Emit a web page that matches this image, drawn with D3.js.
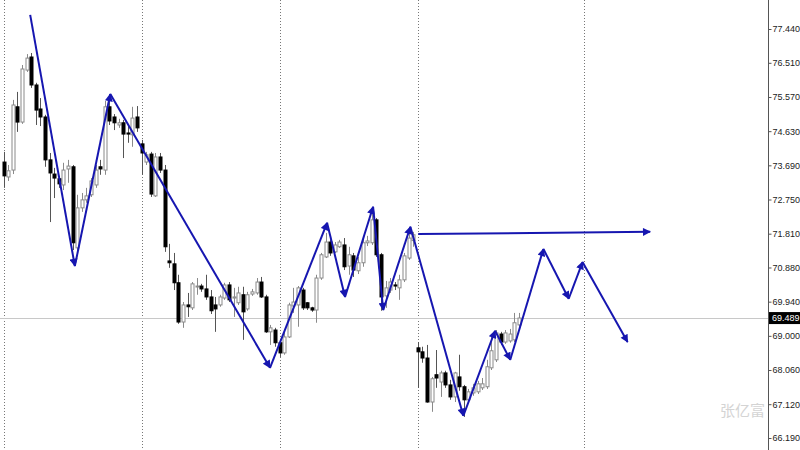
<!DOCTYPE html>
<html>
<head>
<meta charset="utf-8">
<script src="https://cdn.jsdelivr.net/npm/d3@7"></script>
<style>
  body { margin: 0; background: #fff; }
  svg { display: block; }
</style>
</head>
<body>
<svg width="800" height="450"></svg>
<script>
// daily candles, oldest first
const opens = [73.78, 73.37, 73.56, 75.30, 74.88, 76.31, 76.67, 75.90, 75.24, 75.02,
  73.84, 73.45, 73.32, 73.15, 73.59, 73.65, 71.42, 72.52, 72.74, 72.88,
  73.15, 73.65, 73.56, 75.30, 75.02, 74.80, 74.86, 74.58, 74.53, 75.02,
  74.28, 73.78, 74.00, 72.85, 73.92, 73.56, 71.06, 70.98, 70.46, 69.38,
  69.85, 69.77, 70.35, 70.37, 70.29, 70.07, 69.85, 69.85, 70.04, 70.40,
  70.04, 69.91, 70.13, 69.74, 70.15, 70.18, 70.48, 70.07, 69.11, 69.16,
  68.81, 68.53, 68.97, 69.82, 69.85, 70.26, 69.91, 69.77, 69.71, 70.59,
  71.17, 71.58, 71.31, 71.45, 71.50, 70.92, 71.20, 70.79, 71.01, 71.56,
  71.56, 72.19, 71.23, 70.10, 70.26, 70.40, 70.32, 70.54, 71.14, 71.62,
  68.67, 68.56, 68.39, 67.18, 67.93, 67.73, 67.98, 67.65, 67.32, 67.87,
  67.60, 67.24, 67.43, 67.46, 67.57, 67.60, 68.12, 68.34, 69.05, 68.83,
  68.86, 68.89, 69.30];
const highs = [74.06, 73.70, 75.49, 75.71, 76.45, 76.75, 76.78, 75.96, 75.54, 75.08,
  74.03, 73.62, 73.40, 73.76, 73.84, 73.70, 72.88, 72.93, 73.07, 73.34,
  73.70, 73.84, 75.46, 75.54, 75.10, 74.97, 74.94, 74.77, 75.30, 75.32,
  74.39, 74.06, 74.06, 74.03, 74.03, 73.70, 71.53, 71.28, 70.68, 69.93,
  70.18, 70.48, 70.59, 70.43, 70.68, 70.26, 70.07, 70.13, 70.46, 70.48,
  70.32, 70.35, 70.35, 70.21, 70.29, 70.59, 70.62, 70.13, 69.30, 69.22,
  68.89, 69.08, 69.91, 70.32, 70.37, 70.32, 69.93, 69.80, 70.68, 71.28,
  71.83, 71.64, 71.58, 71.64, 71.69, 71.45, 71.28, 71.17, 71.69, 71.75,
  72.41, 72.24, 71.28, 70.51, 70.59, 70.48, 70.68, 71.28, 71.94, 71.86,
  68.83, 68.70, 68.75, 67.87, 68.61, 68.04, 68.04, 67.79, 68.01, 68.48,
  67.65, 67.54, 67.68, 67.76, 67.84, 68.34, 69.03, 69.16, 69.11, 69.16,
  69.19, 69.63, 69.63];
const lows = [73.07, 73.26, 73.45, 74.61, 74.83, 76.26, 75.82, 74.80, 74.77, 73.65,
  72.13, 72.79, 73.07, 73.01, 73.21, 71.36, 71.31, 72.41, 72.66, 72.82,
  73.07, 73.43, 73.43, 74.80, 74.66, 74.72, 73.89, 74.31, 74.20, 74.61,
  73.43, 73.70, 72.82, 72.82, 73.48, 71.31, 70.87, 70.26, 69.33, 69.22,
  69.52, 69.71, 70.13, 70.21, 69.99, 69.60, 69.11, 69.80, 69.99, 69.93,
  69.52, 69.85, 68.89, 69.69, 70.10, 70.13, 70.04, 69.08, 68.75, 68.70,
  68.42, 68.48, 68.94, 69.63, 69.25, 69.71, 69.71, 69.66, 69.36, 70.54,
  71.14, 71.20, 71.28, 71.42, 70.81, 70.68, 70.62, 70.70, 70.90, 71.47,
  71.50, 71.17, 69.69, 69.77, 70.18, 70.26, 69.99, 70.48, 71.09, 71.45,
  67.57, 68.26, 67.16, 66.91, 67.57, 67.32, 67.57, 67.24, 67.18, 67.49,
  66.77, 67.18, 67.35, 67.40, 67.51, 67.54, 68.06, 68.28, 68.75, 68.78,
  68.81, 68.83, 69.25];
const closes = [73.40, 73.54, 75.35, 74.88, 76.34, 76.64, 75.90, 75.21, 75.02, 73.84,
  73.48, 73.34, 73.18, 73.56, 73.67, 71.56, 72.52, 72.74, 72.85, 73.26,
  73.56, 73.59, 75.30, 74.91, 74.86, 74.86, 74.55, 74.55, 74.99, 74.72,
  74.03, 73.98, 72.90, 73.92, 73.56, 71.45, 71.01, 70.46, 69.38, 69.85,
  69.80, 70.43, 70.37, 70.29, 70.07, 69.69, 69.74, 70.07, 70.40, 69.99,
  70.07, 70.18, 69.66, 70.13, 70.21, 70.48, 70.07, 69.11, 69.22, 68.81,
  68.53, 68.97, 69.85, 69.93, 70.32, 69.77, 69.77, 69.71, 70.59, 71.23,
  71.58, 71.28, 71.50, 71.58, 70.90, 71.23, 70.81, 71.01, 71.56, 71.61,
  72.19, 71.23, 70.07, 70.32, 70.48, 70.37, 70.54, 71.20, 71.69, 71.78,
  68.56, 68.39, 67.18, 67.82, 67.84, 67.98, 67.65, 67.32, 67.98, 67.60,
  67.24, 67.46, 67.57, 67.68, 67.68, 68.15, 68.59, 69.08, 68.83, 69.08,
  69.05, 69.36, 69.49];

const priceTicks = [77.44, 76.51, 75.57, 74.63, 73.69, 72.75, 71.81, 70.88,
  69.94, 69.00, 68.06, 67.12, 66.19];
const lastPrice = 69.489;

// period separators (bar positions)
const separatorBars = [0.1, 30.1, 60.1, 90.0, 126.2];

// hand drawn zigzag wave, bar position / price
const waveBars = [5.8, 15.5, 23.2, 57.9, 70.3, 74.2, 80.3, 82.5, 88.4, 99.9,
  106.8, 110.1, 117.3, 122.8, 125.8, 135.6];
const wavePrices = [77.83, 70.92, 75.65, 68.12, 72.11, 70.07, 72.55, 69.71, 72.00, 66.80,
  69.14, 68.34, 71.39, 70.02, 71.03, 68.83];

// horizontal resistance arrow
const levelBars = [90.1, 140.5];
const levelPrices = [71.80, 71.86];

const width = 800, height = 450;
const axisX = 768;
const labelFont = "'Liberation Sans', Arial, sans-serif";

const svg = d3.select("svg");

const x = d3.scaleLinear().domain([0, 112]).range([3.5, 519]);
const y = d3.scaleLinear().domain([66.19, 77.44]).range([438, 29]);

const candles = opens.map((o, i) => ({
  i, o, h: highs[i], l: lows[i], c: closes[i],
}));

// separators
svg.append("g")
  .selectAll("line")
  .data(separatorBars)
  .join("line")
  .attr("x1", (d) => Math.round(x(d)) + 0.5)
  .attr("x2", (d) => Math.round(x(d)) + 0.5)
  .attr("y1", 0)
  .attr("y2", height)
  .attr("stroke", "#777")
  .attr("stroke-width", 1)
  .attr("stroke-dasharray", "1,2");

// last price line
svg.append("line")
  .attr("x1", 0)
  .attr("x2", axisX)
  .attr("y1", Math.round(y(lastPrice)) + 0.5)
  .attr("y2", Math.round(y(lastPrice)) + 0.5)
  .attr("stroke", "#c8c8c8");

// candles
const cg = svg.append("g");
const bars = cg.selectAll("g").data(candles).join("g");

bars.append("line")
  .attr("x1", (d) => Math.round(x(d.i)) + 0.5)
  .attr("x2", (d) => Math.round(x(d.i)) + 0.5)
  .attr("y1", (d) => y(d.h))
  .attr("y2", (d) => y(d.l))
  .attr("stroke", (d) => (d.c >= d.o ? "#8a8a8a" : "#555"))
  .attr("stroke-width", 1);

bars.append("rect")
  .attr("x", (d) => Math.round(x(d.i)) - 1)
  .attr("y", (d) => y(Math.max(d.o, d.c)))
  .attr("width", 3)
  .attr("height", (d) => Math.max(1, Math.abs(y(d.o) - y(d.c))))
  .attr("fill", (d) => (d.c >= d.o ? "#fff" : "#000"))
  .attr("stroke", (d) => (d.c >= d.o ? "#8a8a8a" : "#000"))
  .attr("stroke-width", 1);

// arrow marker
const blue = "#1616b0";
svg.append("defs")
  .append("marker")
  .attr("id", "arrow")
  .attr("viewBox", "0 0 10 10")
  .attr("refX", 9)
  .attr("refY", 5)
  .attr("markerUnits", "userSpaceOnUse")
  .attr("markerWidth", 9)
  .attr("markerHeight", 8)
  .attr("orient", "auto")
  .append("path")
  .attr("d", "M0,0 L10,5 L0,10 z")
  .attr("fill", blue);

const wave = waveBars.map((b, k) => [x(b), y(wavePrices[k])]);
svg.append("g")
  .selectAll("line")
  .data(d3.pairs(wave))
  .join("line")
  .attr("x1", (d) => d[0][0])
  .attr("y1", (d) => d[0][1])
  .attr("x2", (d) => d[1][0])
  .attr("y2", (d) => d[1][1])
  .attr("stroke", blue)
  .attr("stroke-width", 2)
  .attr("marker-end", "url(#arrow)");

svg.append("line")
  .attr("x1", x(levelBars[0]))
  .attr("y1", y(levelPrices[0]))
  .attr("x2", x(levelBars[1]))
  .attr("y2", y(levelPrices[1]))
  .attr("stroke", blue)
  .attr("stroke-width", 2)
  .attr("marker-end", "url(#arrow)");

// price axis on the right
const axis = d3.axisRight(y)
  .tickValues(priceTicks)
  .tickSize(3)
  .tickPadding(1)
  .tickFormat(d3.format(".3f"));

const ag = svg.append("g")
  .attr("transform", `translate(${axisX + 0.5},0)`)
  .call(axis);
ag.select(".domain").attr("stroke", "#555").attr("d", `M0,0V${height}`);
ag.selectAll(".tick line").attr("stroke", "#555");
ag.selectAll(".tick text")
  .attr("font-family", labelFont)
  .attr("font-size", 9)
  .attr("fill", "#222");

// last price tag
const lg = svg.append("g")
  .attr("transform", `translate(${axisX + 1},${y(lastPrice)})`);
lg.append("rect")
  .attr("x", 0)
  .attr("y", -6)
  .attr("width", width - axisX - 1)
  .attr("height", 12)
  .attr("fill", "#000");
lg.append("text")
  .attr("x", 3)
  .attr("dy", "0.35em")
  .attr("font-family", labelFont)
  .attr("font-size", 9)
  .attr("fill", "#fff")
  .text(d3.format(".3f")(lastPrice));

// watermark
svg.append("text")
  .attr("x", 765)
  .attr("y", 416)
  .attr("text-anchor", "end")
  .attr("font-family", "'Noto Sans CJK SC', sans-serif")
  .attr("font-size", 15)
  .attr("fill", "#d4d4d4")
  .text("张亿富");
</script>
</body>
</html>
